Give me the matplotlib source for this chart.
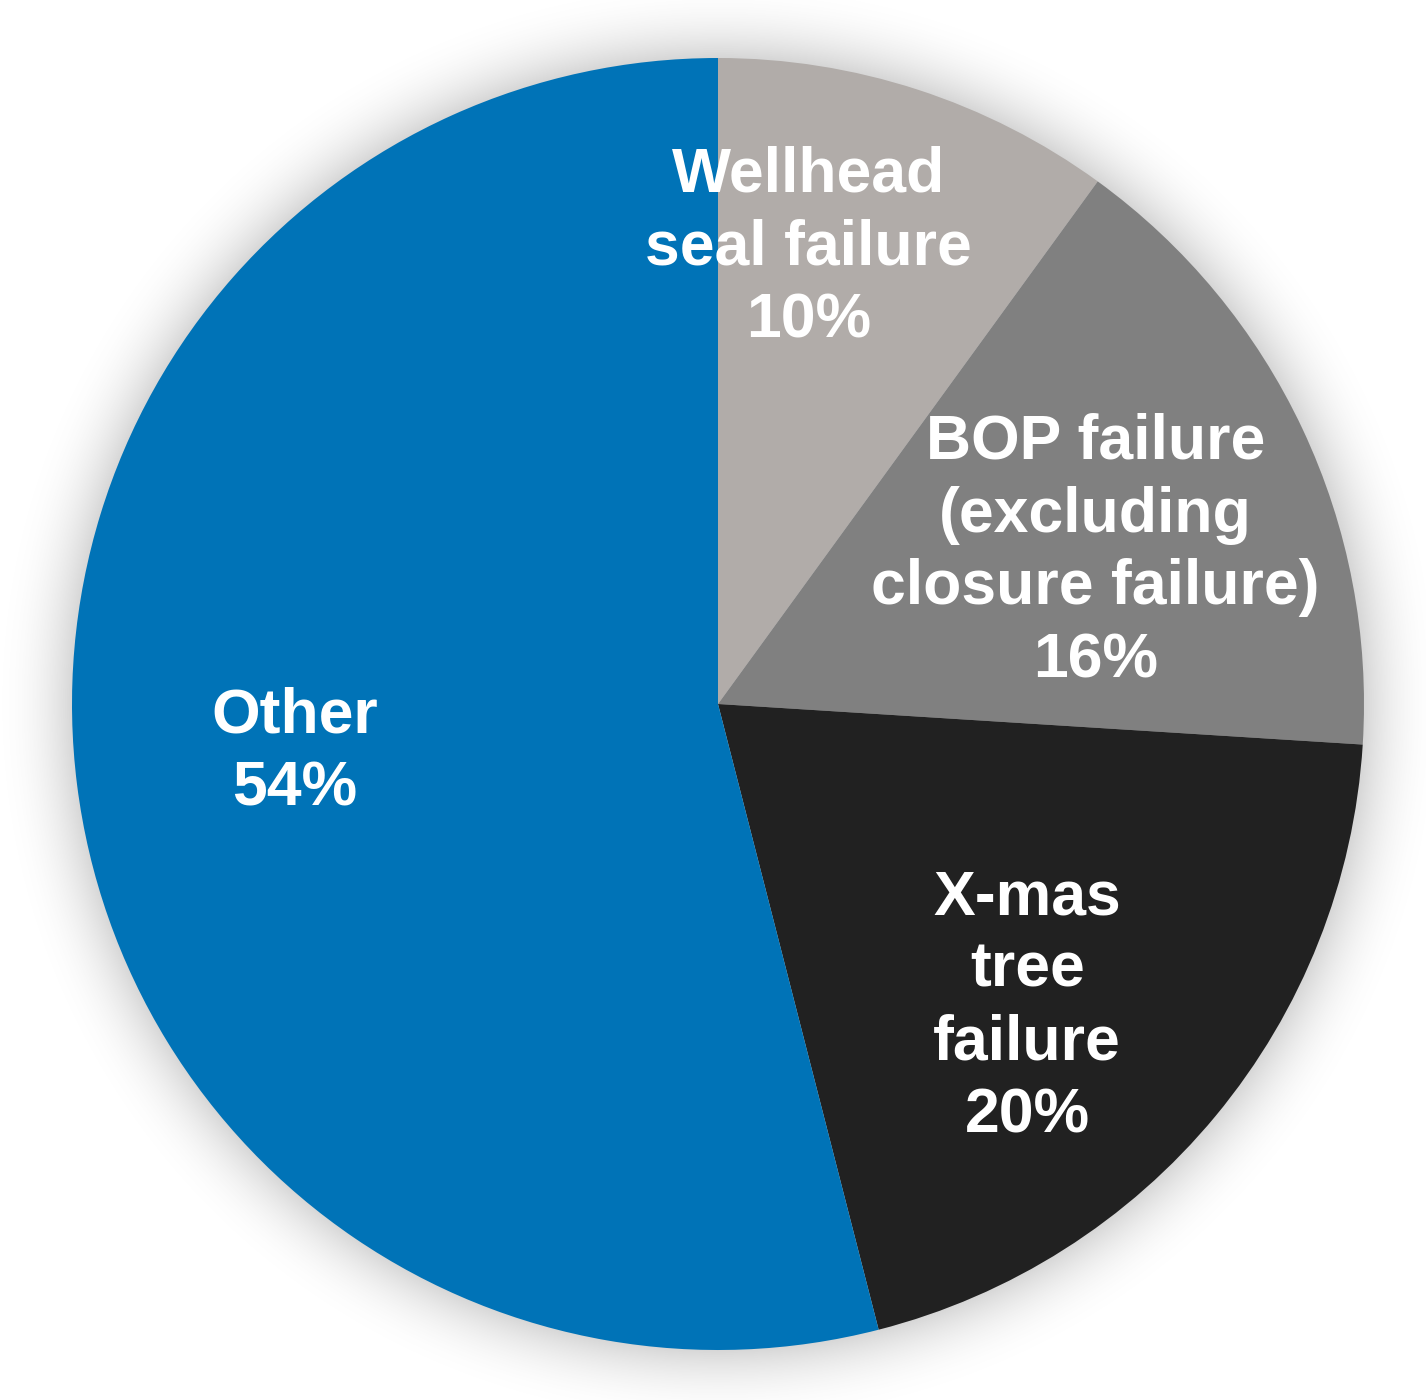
import numpy
from matplotlib import pyplot

labels = [
    "Wellhead\nseal failure\n10%",
    "BOP failure\n(excluding\nclosure failure)\n16%",
    "X-mas\ntree\nfailure\n20%",
    "Other\n54%",
]
shares = [10, 16, 20, 54]
colors = ["#b1aca9", "#808080", "#212121", "#0073b7"]


def main():
    width, height = 1426, 1400
    figure = pyplot.figure(figsize=(width / 100, height / 100), dpi=100)
    axis = figure.add_axes([0, 0, 1, 1])

    cx, cy, radius = 718, height - 704, 646

    # soft shadow halo around the pie
    xs, ys = numpy.meshgrid(numpy.arange(width), numpy.arange(height))
    dist = numpy.hypot(xs - cx, ys - cy) - radius
    fade = numpy.clip(1 - dist / 80.0, 0, 1) ** 2.2
    halo = numpy.zeros((height, width, 4))
    halo[..., :3] = 0.6
    halo[..., 3] = 0.4 * fade
    axis.imshow(halo, extent=(0, width, 0, height), origin="lower", zorder=0)

    axis.pie(
        shares,
        colors=colors,
        startangle=90,
        counterclock=False,
        center=(cx, cy),
        radius=radius,
        wedgeprops={"linewidth": 0, "zorder": 1},
        frame=True,
    )
    axis.set_xlim(0, width)
    axis.set_ylim(0, height)
    axis.set_aspect("equal")
    axis.axis("off")

    # label centres as (distance / radius, angle in degrees)
    placements = [(0.72, 78.8), (0.63, 22.0), (0.67, -44.4), (0.66, 186.5)]
    for text, (frac, angle) in zip(labels, placements):
        theta = numpy.deg2rad(angle)
        axis.text(
            cx + frac * radius * numpy.cos(theta),
            cy + frac * radius * numpy.sin(theta),
            text,
            ha="center",
            va="center",
            color="white",
            fontsize=45,
            fontweight="bold",
            family="Liberation Sans",
            linespacing=1.3,
            zorder=3,
        )

    figure.savefig("out.png", dpi=100, facecolor="white")


if __name__ == "__main__":
    main()
